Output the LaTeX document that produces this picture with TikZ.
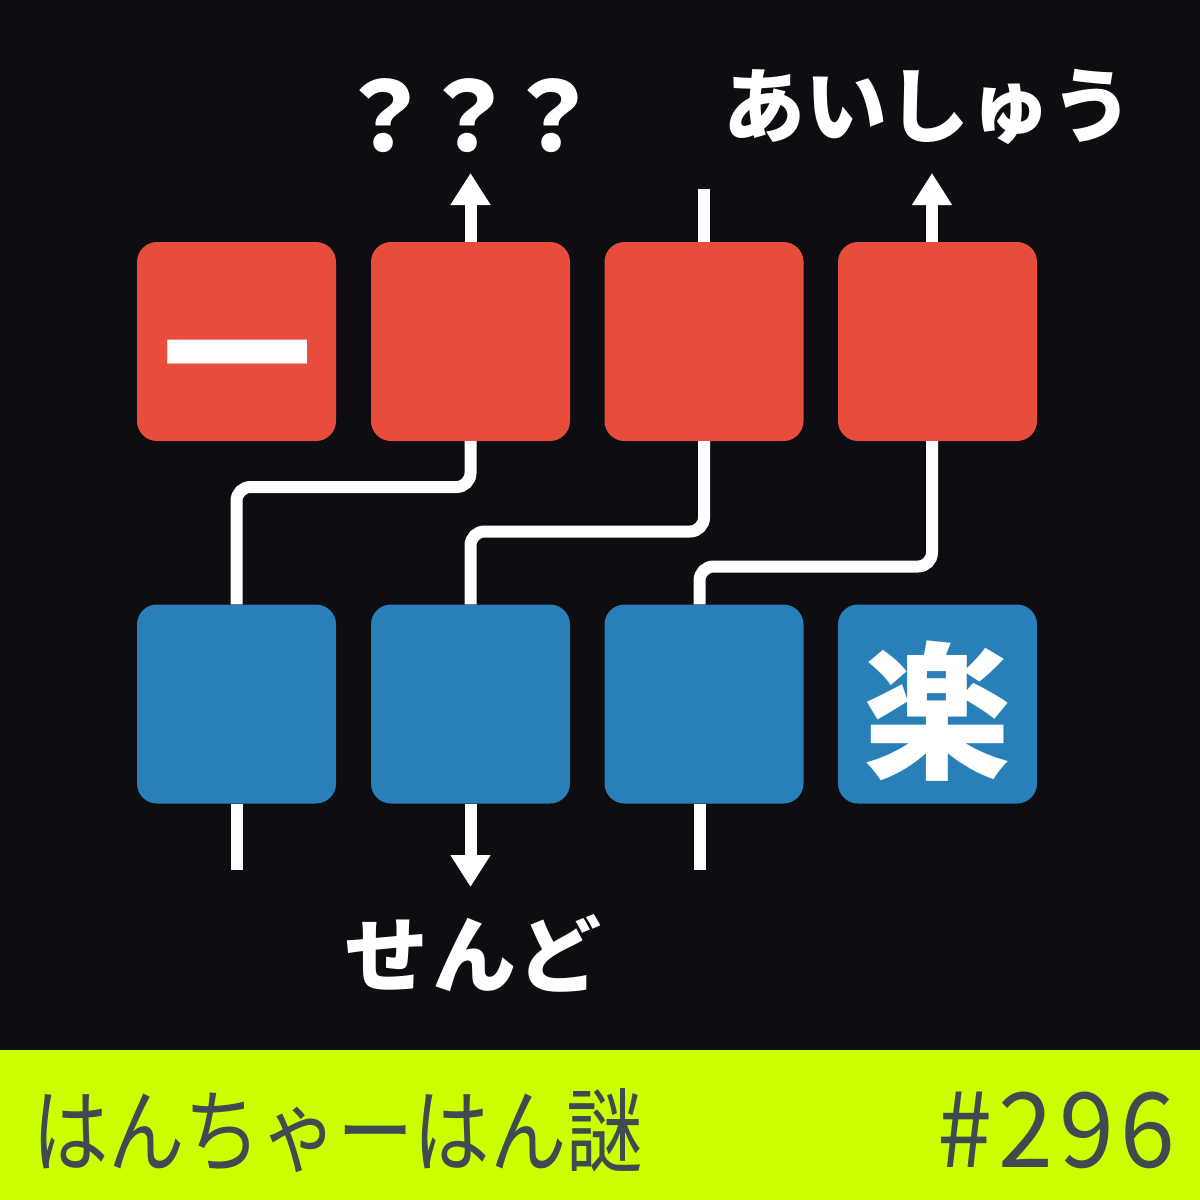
\documentclass[tikz,border=0pt]{standalone}
\usepackage{fontspec}
\usetikzlibrary{arrows.meta}
\newfontfamily\jp{Noto Sans CJK JP}
\newfontfamily\jpfoot{Noto Sans CJK JP}[FakeStretch=0.83]
\newfontfamily\jpnum{Noto Sans CJK JP}[FakeStretch=0.95,LetterSpace=6]
\definecolor{bgdark}{HTML}{0D0D12}
\definecolor{redbox}{HTML}{E74C3C}
\definecolor{bluebox}{HTML}{2980B9}
\definecolor{lime}{HTML}{CCFF00}
\definecolor{foottext}{HTML}{3E4B50}
\tikzset{
  tile/.style={rectangle, rounded corners=20pt, minimum width=199pt, minimum height=199pt, inner sep=0pt, draw=none},
  redtile/.style={tile, fill=redbox},
  bluetile/.style={tile, fill=bluebox},
  wire/.style={draw=white, line width=12pt, rounded corners=14pt},
  stub/.style={draw=white, line width=12pt},
  arrowline/.style={draw=white, line width=12pt, -{Triangle[width=38pt,length=32pt]}},
  lbl/.style={text=white, inner sep=0pt, font=\jp\bfseries},
  foot/.style={text=foottext, inner sep=0pt}
}
\begin{document}
\begin{tikzpicture}[x=1pt,y=-1pt]
\fill[bgdark] (0,0) rectangle (1200,1200);
\fill[lime] (0,1050) rectangle (1200,1200);
\useasboundingbox (0,0) rectangle (1200,1200);

% tiles
\node[redtile] (r1) at (236.5,341.5) {};
\node[redtile] (r2) at (470.5,341.5) {};
\node[redtile] (r3) at (704,341.5) {};
\node[redtile] (r4) at (937.5,341.5) {};
\node[bluetile] (b1) at (236.5,704) {};
\node[bluetile] (b2) at (470.5,704) {};
\node[bluetile] (b3) at (704,704) {};
\node[bluetile] (b4) at (937.5,704) {};

% glyphs in tiles
\node[lbl, font=\jp\bfseries\fontsize{150}{150}\selectfont] (t1) at (237.5,375) {一};
\node[lbl, font=\jp\bfseries\fontsize{148}{148}\selectfont] (t4) at (937.5,711) {楽};

% top stubs and arrows
\coordinate (a2) at (470.5,173);
\coordinate (s3) at (704,189);
\coordinate (a4) at (932,173);
\draw[arrowline] (r2.north) -- (a2);
\draw[stub] (r3.north) -- (s3);
\draw[arrowline] ([xshift=-5.5pt]r4.north) -- (a4);

% connectors between rows
\draw[wire] (r2.south) -- (470.5,487) -| (b1.north);
\draw[wire] (r3.south) -- (704,531.5) -| (b2.north);
\draw[wire] ([xshift=-5.5pt]r4.south) -- (932,566.5) -| ([xshift=-4.5pt]b3.north);

% bottom stubs and arrow
\coordinate (s1) at (236.5,870);
\coordinate (a2b) at (470.5,887);
\coordinate (s3b) at (699.5,870);
\draw[stub] (b1.south) -- (s1);
\draw[arrowline] (b2.south) -- (a2b);
\draw[stub] ([xshift=-4.5pt]b3.south) -- (s3b);

% labels
\node[lbl, font=\jp\bfseries\fontsize{96}{96}\selectfont\addfontfeature{LetterSpace=-12.5}] (q) at (468,116) {？？？};
\node[lbl, font=\jp\bfseries\fontsize{82}{82}\selectfont] (ai) at (928,107) {あいしゅう};
\node[lbl, font=\jp\bfseries\fontsize{84}{84}\selectfont\addfontfeature{LetterSpace=5}] (sen) at (473,953) {せんど};

% footer
\node[foot, anchor=west, font=\jpfoot\fontsize{92}{92}\selectfont] (title) at (32,1131) {はんちゃーはん謎};
\node[foot, anchor=east, font=\jpnum\fontsize{104}{104}\selectfont] (num) at (1176,1130) {\#296};
\end{tikzpicture}
\end{document}
